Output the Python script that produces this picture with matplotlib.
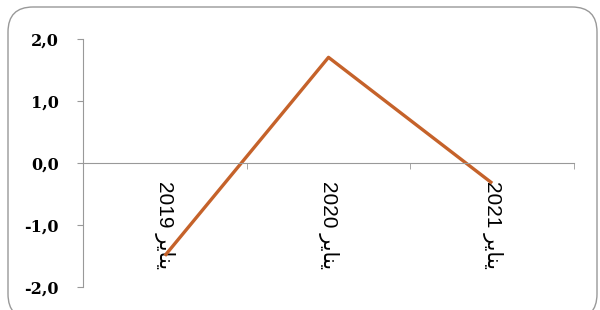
import matplotlib
matplotlib.use("Agg")
import matplotlib.pyplot as plt
from matplotlib.patches import FancyBboxPatch
from matplotlib.ticker import FixedLocator

# "يناير" in visual order using presentation forms (matplotlib does no shaping)
yanayir = "\uFEAE\uFEF3\uFE8E\uFEE8\uFEF3"
years = ["2019", "2020", "2021"]
labels = [y + " " + yanayir for y in years]
values = [-1.5, 1.7, -0.33]
yticks = [-2, -1, 0, 1, 2]
ytick_labels = ["-2,0", "-1,0", "0,0", "1,0", "2,0"]

fig = plt.figure(figsize=(6, 3.1), dpi=100)
ax = fig.add_axes([0.1383, 0.075, 0.8184, 0.80])

# rounded frame around the chart
frame = FancyBboxPatch((0.08, -0.09), 5.89, 3.12,
                       boxstyle="round,pad=0,rounding_size=0.25",
                       transform=fig.dpi_scale_trans, fill=False,
                       edgecolor="#999999", lw=1.0, clip_on=False)
fig.patches.append(frame)

x = list(range(len(years)))
ax.plot(x, values, color="#C5622A", lw=2.4, solid_capstyle="butt")

ax.set_xlim(-0.5, 2.5)
ax.set_ylim(-2, 2)

for s in ["top", "right"]:
    ax.spines[s].set_visible(False)
ax.spines["left"].set_color("#999999")
ax.spines["bottom"].set_position(("data", 0))
ax.spines["bottom"].set_color("#999999")

ax.set_yticks(yticks, labels=ytick_labels, family="DejaVu Serif",
              fontweight="bold", fontsize=11.5)
ax.tick_params(axis="y", length=4.5, color="#999999", pad=13)

ax.set_xticks(x, labels=labels, rotation=270, ha="center", va="top",
              fontsize=15, family=["Liberation Sans", "DejaVu Sans"])
ax.xaxis.set_minor_locator(FixedLocator([0.5, 1.5, 2.5]))
ax.tick_params(axis="x", which="major", length=0, pad=13)
ax.tick_params(axis="x", which="minor", length=4, color="#999999")

fig.savefig("out.png", dpi=100)
